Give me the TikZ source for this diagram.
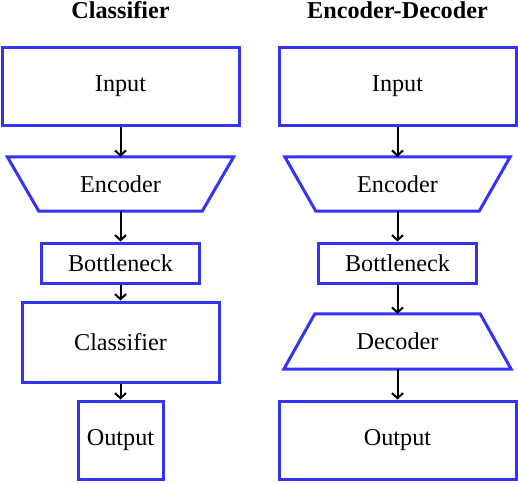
\documentclass[tikz,border=0pt]{standalone}
\usepackage{fontspec}
\setmainfont{Liberation Serif}
\usetikzlibrary{arrows.meta}

\definecolor{boxblue}{RGB}{51,51,245}
\tikzset{
  blk/.style={draw=boxblue, line width=3pt},
  txt/.style={inner sep=0pt, font=\fontsize{24.2}{28}\selectfont},
  ttl/.style={inner sep=0pt, font=\fontsize{24.2}{28}\selectfont\bfseries},
  flow/.style={line width=2pt, -{Straight Barb[length=5pt,width=11pt]}}
}

\begin{document}
\begin{tikzpicture}[x=1pt,y=1pt,yscale=-1,xscale=1]
\useasboundingbox (0,0) rectangle (518,482);

% Titles
\node[ttl] (ttlL) at (120.5,10) {Classifier};
\node[ttl] (ttlR) at (397.5,10) {Encoder-Decoder};

%Left column: Classifier
\node[txt, blk, minimum width=237pt, minimum height=78pt] (inL) at (120.5,86) {Input};
\node[txt, minimum width=226pt, minimum height=54pt] (encL) at (120.5,184) {Encoder};
\draw[blk] (encL.north west) -- (encL.north east) -- ([xshift=-31.5pt]encL.south east) -- ([xshift=31.5pt]encL.south west) -- cycle;
\node[txt, blk, minimum width=158pt, minimum height=40pt] (botL) at (120.5,263) {Bottleneck};
\node[txt, blk, minimum width=197pt, minimum height=80pt] (cls) at (120.5,342) {Classifier};
\node[txt, blk, minimum width=85pt, minimum height=78pt] (outL) at (120.5,440) {Output};

%Right column: Encoder-Decoder
\node[txt, blk, minimum width=237pt, minimum height=78pt] (inR) at (397.5,86) {Input};
\node[txt, minimum width=225pt, minimum height=54pt] (encR) at (397.5,184) {Encoder};
\draw[blk] (encR.north west) -- (encR.north east) -- ([xshift=-31pt]encR.south east) -- ([xshift=31pt]encR.south west) -- cycle;
\node[txt, blk, minimum width=158pt, minimum height=40pt] (botR) at (397.5,263) {Bottleneck};
\node[txt, minimum width=227pt, minimum height=55pt] (dec) at (397.5,341.5) {Decoder};
\draw[blk] ([xshift=31pt]dec.north west) -- ([xshift=-31pt]dec.north east) -- (dec.south east) -- (dec.south west) -- cycle;
\node[txt, blk, minimum width=237pt, minimum height=78pt] (outR) at (397.5,440) {Output};

% Arrows
\draw[flow] (inL.south) -- (encL.north);
\draw[flow] (encL.south) -- (botL.north);
\draw[flow] (botL.south) -- (cls.north);
\draw[flow] (cls.south) -- (outL.north);

\draw[flow] (inR.south) -- (encR.north);
\draw[flow] (encR.south) -- (botR.north);
\draw[flow] (botR.south) -- (dec.north);
\draw[flow] (dec.south) -- (outR.north);

\end{tikzpicture}
\end{document}
